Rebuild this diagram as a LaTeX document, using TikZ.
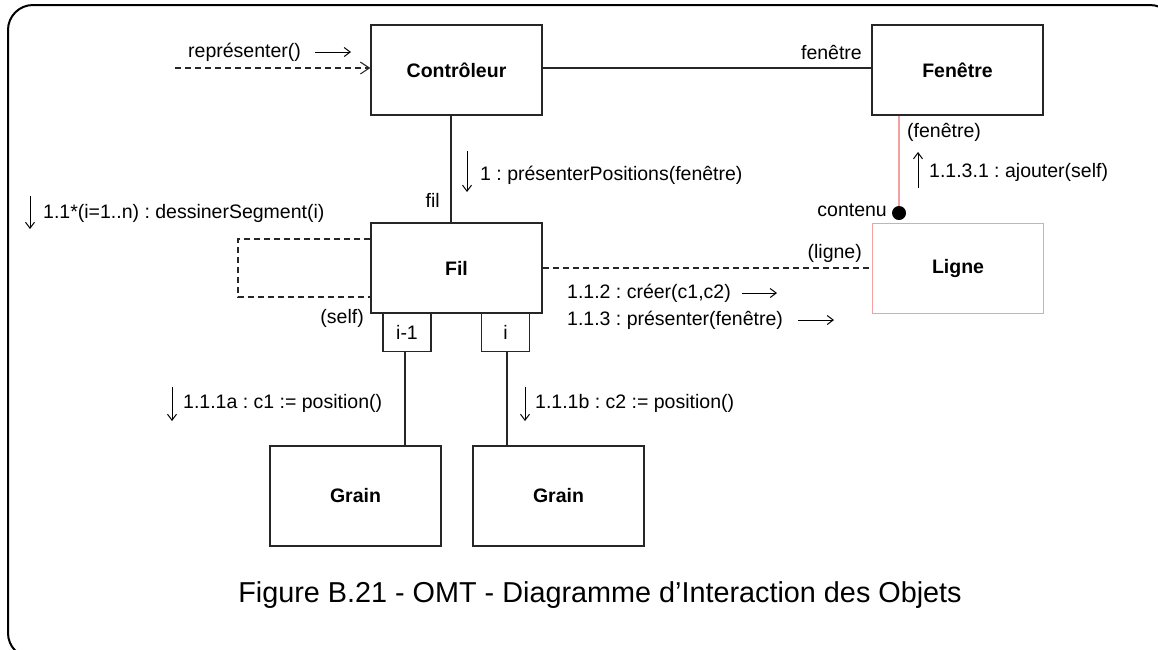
\documentclass[tikz,border=0pt]{standalone}
\usepackage{fontspec}
\setmainfont{Liberation Sans}
\usetikzlibrary{arrows.meta,calc}
\definecolor{pinkline}{RGB}{242,160,160}
\begin{document}
\begin{tikzpicture}[x=1pt,y=-1pt,
  font=\frenchspacing\fontsize{19.5}{23}\selectfont,
  obj/.style={draw=black!85,line width=1.3pt,minimum width=171pt,minimum height=90pt,inner sep=0pt,font=\frenchspacing\fontsize{19.5}{23}\selectfont\bfseries},
  qual/.style={draw=black!85,line width=1.3pt,minimum width=48pt,minimum height=38pt,inner sep=0pt},
  lbl/.style={inner sep=0pt},
  link/.style={draw=black!85,line width=1.1pt},
  dlink/.style={draw=black!85,line width=1.1pt,dash pattern=on 6pt off 4pt},
  msg/.style={draw=black,line width=1pt,-{Straight Barb[length=6pt,width=9pt]}},
]
\useasboundingbox (0,0) rectangle (1158,649);
\begin{scope}
\clip (0,0) rectangle (1158,649);
\draw[line width=2pt,rounded corners=25pt] (8,5) rectangle (1175,658);
\end{scope}

% objects
\node[obj] (ctrl) at (456.5,70) {Contrôleur};
\node[obj] (fen) at (957.5,70) {Fenêtre};
\node[obj] (fil) at (456.5,268) {Fil};
\node[obj,draw=pinkline] (ligne) at (958,268.5) {Ligne};
\node[qual,anchor=north] (qa) at (407,313) {i-1};
\node[qual,anchor=north] (qb) at (505.5,313) {i};
\node[obj,minimum height=100pt] (g1) at (355.5,496) {Grain};
\node[obj,minimum height=100pt] (g2) at (558.5,496) {Grain};

% links
\coordinate (cs) at ($(ctrl.south)+(-5.5,0)$);
\draw[link] (cs) -- (cs |- fil.north);
\coordinate (ce) at ($(ctrl.east)+(0,-2)$);
\draw[link] (ce) -- (ce -| fen.west);
\coordinate (qal) at ($(qa.south)+(-2,0)$);
\coordinate (qbl) at ($(qb.south)+(1.5,0)$);
\draw[link] (qal) -- (qal |- g1.north);
\draw[link] (qbl) -- (qbl |- g2.north);
\draw[dlink] (fil.east) -- (fil.east -| ligne.west);
\coordinate (s1) at (fil.north west |- 0,239);
\coordinate (s2) at (238,239);
\coordinate (s3) at (238,297);
\coordinate (s4) at (fil.north west |- 0,297);
\draw[dlink] (s1) -- (s2) -- (s3) -- (s4);
\node[circle,fill=black,inner sep=0pt,minimum size=14pt] (dot) at (899,213) {};
\draw[draw=pinkline,line width=1.1pt] (fen.south -| dot) -- (dot);

% représenter
\coordinate (rstart) at (175,68);
\draw[dlink,-{Straight Barb[length=9pt,width=12pt]}] (rstart) -- (rstart -| ctrl.west);
\node[lbl,anchor=west] (rlab) at (188,52) {représenter()};
\coordinate (ra1) at (315,52); \coordinate (ra2) at (351,52);
\draw[msg] (ra1) -- (ra2);

% labels
\node[lbl,anchor=east] (lfen) at (862,52) {fenêtre};
\node[lbl,anchor=east] (lfil) at (440,200) {fil};
\node[lbl,anchor=west] (m1) at (480,175) {1 : présenterPositions(fenêtre)};
\coordinate (m1a) at (467,151); \coordinate (m1b) at (467,192);
\draw[msg] (m1a) -- (m1b);

\node[lbl,anchor=west] (m11) at (43,213) {1.1*(i=1..n) : dessinerSegment(i)};
\coordinate (m11a) at (30,196); \coordinate (m11b) at (30,229);
\draw[msg] (m11a) -- (m11b);
\node[lbl,anchor=east] (lself) at (364,318) {(self)};

\node[lbl,anchor=east] (lligne) at (862,253) {(ligne)};
\node[lbl,anchor=west] (m112) at (567,293) {1.1.2 : créer(c1,c2)};
\coordinate (m112a) at (742,293); \coordinate (m112b) at (777,293);
\draw[msg] (m112a) -- (m112b);
\node[lbl,anchor=west] (m113) at (567,320) {1.1.3 : présenter(fenêtre)};
\coordinate (m113a) at (798,320); \coordinate (m113b) at (834,320);
\draw[msg] (m113a) -- (m113b);

\node[lbl,anchor=west] (lfen2) at (907,132) {(fenêtre)};
\node[lbl,anchor=west] (m1131) at (929,172) {1.1.3.1 : ajouter(self)};
\coordinate (m1131a) at (918,188); \coordinate (m1131b) at (918,152);
\draw[msg] (m1131a) -- (m1131b);
\node[lbl,anchor=east] (lcont) at (887,210) {contenu};

\node[lbl,anchor=west] (m111a) at (183,403) {1.1.1a : c1 := position()};
\coordinate (m111aa) at (172,387); \coordinate (m111ab) at (172,421);
\draw[msg] (m111aa) -- (m111ab);
\node[lbl,anchor=west] (m111b) at (535,403) {1.1.1b : c2 := position()};
\coordinate (m111ba) at (525,387); \coordinate (m111bb) at (525,421);
\draw[msg] (m111ba) -- (m111bb);

\node[lbl,font=\frenchspacing\fontsize{28.8}{32}\selectfont] (cap) at (600,595) {Figure B.21 - OMT - Diagramme d’Interaction des Objets};
\end{tikzpicture}
\end{document}
